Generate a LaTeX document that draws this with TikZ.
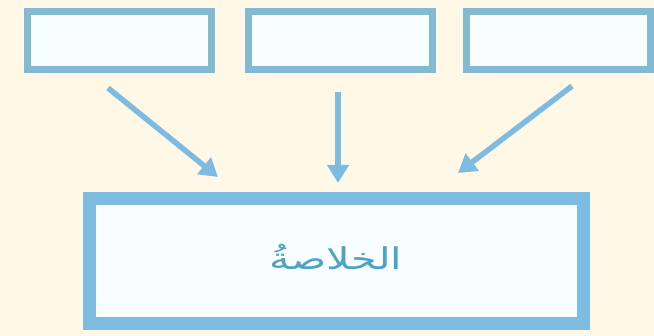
\documentclass[tikz,border=0pt]{standalone}
\usepackage{fontspec}
\newfontfamily\arabicfont[Script=Arabic]{DejaVu Sans}
\TeXXeTstate=1
\usetikzlibrary{arrows.meta}
\definecolor{bgc}{HTML}{FFF8E6}
\definecolor{topblue}{HTML}{84B9D2}
\definecolor{botblue}{HTML}{7DBCE0}
\definecolor{fillc}{HTML}{F8FDFF}
\definecolor{txtc}{HTML}{4DA3C4}
\begin{document}
\begin{tikzpicture}[x=1pt,y=-1pt,
  topbox/.style={draw=topblue,line width=7pt,fill=fillc,minimum width=184pt,minimum height=58pt,inner sep=0pt},
  mainbox/.style={draw=botblue,line width=13pt,fill=fillc,minimum width=494pt,minimum height=125pt,inner sep=0pt},
  conn/.style={draw=botblue,line width=5.5pt,-{Triangle[width=21pt,length=18pt]}}]
\fill[bgc] (0,0) rectangle (654,336);
\useasboundingbox (0,0) rectangle (654,336);
\node[topbox] (b1) at (119.5,40.5) {};
\node[topbox] (b2) at (340.5,40.5) {};
\node[topbox] (b3) at (558,40.5) {};
\node[mainbox] (m) at (336.5,261) {};
\node[text=txtc,font=\arabicfont\fontsize{30}{34}\selectfont,xscale=1.38] (t) at (336,257) {\beginR الخلاصةُ\endR};
\coordinate (s1) at (108,88);
\coordinate (e1) at (218,177);
\coordinate (s2) at (338,92);
\coordinate (e2) at (338,183);
\coordinate (s3) at (572,86);
\coordinate (e3) at (458,173);
\draw[conn] (s1) -- (e1);
\draw[conn] (s2) -- (e2);
\draw[conn] (s3) -- (e3);
\end{tikzpicture}
\end{document}
